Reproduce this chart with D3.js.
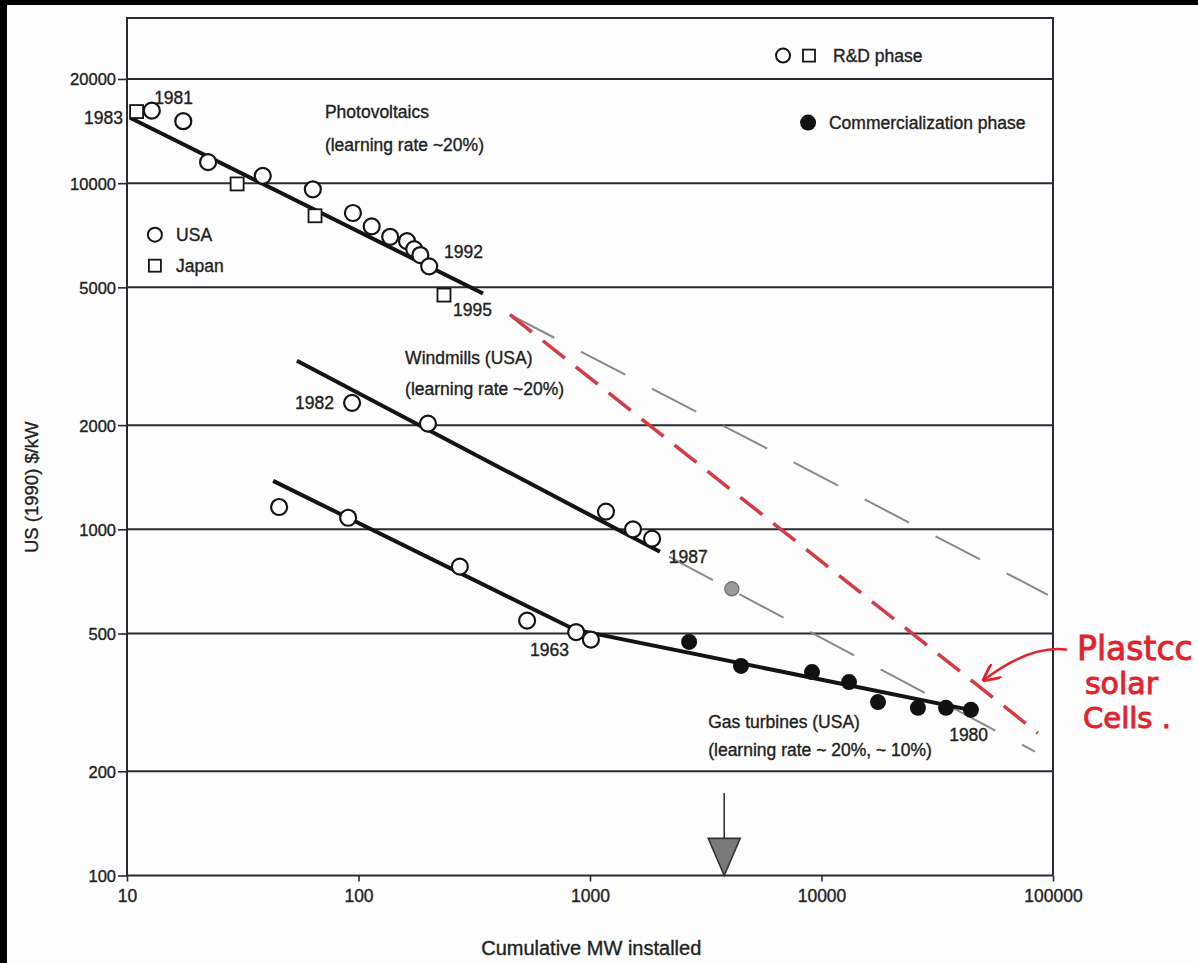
<!DOCTYPE html>
<html>
<head>
<meta charset="utf-8">
<script src="https://cdn.jsdelivr.net/npm/d3@7"></script>
<style>
    body { margin: 0; background: #fff; }
    text { font-family: "Liberation Sans", Arial, sans-serif; fill: #222; }
</style>
</head>
<body>
<div id="chart"></div>
<script>
const dims = {
    width: 1198, height: 963,
    top: 18, left: 127, right: 1053, bottom: 875.5
}

// axis ticks
const xTicks = [10, 100, 1000, 10000, 100000];
const yTicks = [100, 200, 500, 1000, 2000, 5000, 10000, 20000];

// [cumulative MW, $/kW]
const pvUSA = [[12.8,16200],[17.5,15100],[22.4,11500],[38.6,10500],[63.5,9600],[94.6,8200],
    [114,7500],[137,7000],[162,6800],[174,6450],[185,6200],[202,5750]];
const pvJapan = [[11.0,16100],[29.9,9950],[64.9,8050],[234,4750]];
const windUSA = [[93.8,2320],[199.5,2020],[1172,1125],[1534,1000],[1854,940]];
const gasRD = [[45.4,1160],[90.2,1080],[274,780],[535,545],[871,505],[1009,480]];
const gasCommercial = [[2680,473],[4490,403],[9100,387],[13150,362],[17540,317],[26100,305],[34500,305],[44200,301]];

// fitted learning curves
const pvFit = [[10.3,15450],[345,4800]];
const windFit = [[54.2,3070],[2005,861]];
const gasFit = [[42.8,1380],[861,513],[46000,299]];

// extrapolations
const pvTrend = [[451,4170],[95000,647]];
const windTrend = [[2190,834],[83600,228]];
const plasticTrend = [[451,4170],[86000,258]];
const projected = [[4100,673]];
const markerX = 3800;

// text labels: [x, y, text, anchor]
const labels = [
    [13.1,16980,"1981","start"],
    [9.6,14860,"1983","end"],
    [234,6095,"1992","start"],
    [256,4140,"1995","start"],
    [78.3,2230,"1982","end"],
    [2190,800,"1987","start"],
    [551,431,"1963","start"],
    [35600,245,"1980","start"],
    [71.6,15450,"Photovoltaics","start"],
    [71.6,12420,"(learning rate ~20%)","start"],
    [159,3005,"Windmills (USA)","start"],
    [159,2450,"(learning rate ~20%)","start"],
    [3240,267,"Gas turbines (USA)","start"],
    [3240,221,"(learning rate ~ 20%, ~ 10%)","start"],
    [16.3,6825,"USA","start"],
    [16.3,5546,"Japan","start"],
    [11220,22440,"R&D phase","start"],
    [10770,14370,"Commercialization phase","start"]
];

const notes = [
    [127000,420,"Plastcc",33],
    [137400,334,"solar",30],
    [134900,266,"Cells  .",29]
];
const noteArrow = [[114800,449],[79600,464],[50300,367]];

const x = d3.scaleLog().domain([10, 100000]).range([dims.left, dims.right]);
const y = d3.scaleLog().domain([100, 30000]).range([dims.bottom, dims.top]);

const svg = d3.select("#chart")
    .append("svg")
    .attr("width", dims.width)
    .attr("height", dims.height);

svg.append("rect").attr("width", dims.width).attr("height", dims.height).attr("fill", "#fdfdfd");
svg.append("rect").attr("width", dims.width).attr("height", 5).attr("fill", "#000");
svg.append("rect").attr("width", 7).attr("height", dims.height).attr("fill", "#000");

const ink = "#2a2a35";

// grid lines
svg.append("g")
    .selectAll("line")
    .data(yTicks)
    .join("line")
    .attr("x1", dims.left).attr("x2", dims.right)
    .attr("y1", d => y(d)).attr("y2", d => y(d))
    .style("stroke", ink).style("stroke-width", 2);

// frame
svg.append("path")
    .attr("d", `M${dims.left},${dims.bottom}V${dims.top}H${dims.right}V${dims.bottom}`)
    .style("fill", "none").style("stroke", ink).style("stroke-width", 2);

// axes
const yAxis = svg.append("g")
    .attr("transform", `translate(${dims.left},0)`)
    .call(d3.axisLeft(y).tickValues(yTicks).tickFormat(d3.format("d")).tickSize(9).tickPadding(2));
const xAxis = svg.append("g")
    .attr("transform", `translate(0,${dims.bottom})`)
    .call(d3.axisBottom(x).tickValues(xTicks).tickFormat(d3.format("d")).tickSize(6).tickPadding(8));
[xAxis, yAxis].forEach(a => {
    a.select(".domain").remove();
    a.selectAll("line").style("stroke", ink).style("stroke-width", 1.6);
    a.selectAll("text")
        .style("fill", "#222")
        .style("stroke", "#222").style("stroke-width", 0.35)
        .style("font-family", "'Liberation Sans', Arial, sans-serif");
});
yAxis.selectAll("text").style("font-size", "16.5px").attr("dy", "0.36em");
xAxis.selectAll("text").style("font-size", "17.5px");

svg.append("text")
    .attr("transform", `translate(38,${(y(2000) + y(1000)) / 2 + 10}) rotate(-90)`)
    .style("text-anchor", "middle")
    .style("font-size", "18.5px")
    .style("stroke", "#222").style("stroke-width", 0.35)
    .text("US (1990) $/kW");

svg.append("text")
    .attr("x", (x(1000) + x(100)) / 2 + 117)
    .attr("y", 955)
    .style("text-anchor", "middle")
    .style("font-size", "20px")
    .style("stroke", "#222").style("stroke-width", 0.35)
    .text("Cumulative MW installed");

const line = d3.line().x(d => x(d[0])).y(d => y(d[1]));

// extrapolated trends
svg.append("g")
    .selectAll("path")
    .data([pvTrend, windTrend])
    .join("path")
    .attr("d", line)
    .style("fill", "none")
    .style("stroke", "#8a8a8a")
    .style("stroke-width", 2)
    .style("stroke-dasharray", "50,30");

svg.append("path")
    .datum(plasticTrend)
    .attr("d", line)
    .style("fill", "none")
    .style("stroke", "#d63a44")
    .style("stroke-width", 3.5)
    .style("stroke-dasharray", "28,14");

svg.append("g")
    .selectAll("circle")
    .data(projected)
    .join("circle")
    .attr("cx", d => x(d[0])).attr("cy", d => y(d[1]))
    .attr("r", 7)
    .style("fill", "#9a9a9a")
    .style("stroke", "#777")
    .style("stroke-width", 1.5);

// fitted lines
svg.append("g")
    .selectAll("path")
    .data([pvFit, windFit, gasFit])
    .join("path")
    .attr("d", line)
    .style("fill", "none")
    .style("stroke", "#141414")
    .style("stroke-width", 4);

// points
const openCircles = pvUSA.concat(windUSA, gasRD);
svg.append("g")
    .selectAll("circle")
    .data(openCircles)
    .join("circle")
    .attr("cx", d => x(d[0])).attr("cy", d => y(d[1]))
    .attr("r", 8)
    .style("fill", "#fff")
    .style("stroke", "#151515")
    .style("stroke-width", 2.2);

svg.append("g")
    .selectAll("rect")
    .data(pvJapan)
    .join("rect")
    .attr("x", d => x(d[0]) - 6.5).attr("y", d => y(d[1]) - 6.5)
    .attr("width", 13).attr("height", 13)
    .style("fill", "#fff")
    .style("stroke", "#151515")
    .style("stroke-width", 1.8);

svg.append("g")
    .selectAll("circle")
    .data(gasCommercial)
    .join("circle")
    .attr("cx", d => x(d[0])).attr("cy", d => y(d[1]))
    .attr("r", 8)
    .style("fill", "#111");

// legend symbols
const legendOpen = [[13.2,7100],[6820,23360]];
const legendSquare = [[13.2,5776],[8830,23360]];
const legendFilled = [[8750,14960]];
svg.append("g").selectAll("circle").data(legendOpen).join("circle")
    .attr("cx", d => x(d[0])).attr("cy", d => y(d[1])).attr("r", 7)
    .style("fill", "#fff").style("stroke", "#151515").style("stroke-width", 2);
svg.append("g").selectAll("rect").data(legendSquare).join("rect")
    .attr("x", d => x(d[0]) - 6).attr("y", d => y(d[1]) - 6)
    .attr("width", 12).attr("height", 12)
    .style("fill", "#fff").style("stroke", "#151515").style("stroke-width", 1.8);
svg.append("g").selectAll("circle").data(legendFilled).join("circle")
    .attr("cx", d => x(d[0])).attr("cy", d => y(d[1])).attr("r", 8)
    .style("fill", "#111");

// labels
svg.append("g")
    .selectAll("text")
    .data(labels)
    .join("text")
    .attr("x", d => x(d[0])).attr("y", d => y(d[1]))
    .style("text-anchor", d => d[3])
    .style("font-size", "17.5px")
    .style("stroke", "#222").style("stroke-width", 0.35)
    .text(d => d[2]);

// marker arrow on x axis
const arrow = svg.append("g").attr("transform", `translate(${x(markerX)},0)`);
arrow.append("line")
    .attr("y1", y(173)).attr("y2", y(128))
    .style("stroke", "#333").style("stroke-width", 1.6);
arrow.append("path")
    .attr("d", `M-16,${y(128)}L16,${y(128)}L0,${y(100)}Z`)
    .style("fill", "#7a7a7a").style("stroke", "#333").style("stroke-width", 1.6);

// handwritten note
const red = "#e3222c";
svg.append("defs").append("marker")
    .attr("id", "head")
    .attr("viewBox", "0 0 10 10")
    .attr("refX", 9).attr("refY", 5)
    .attr("markerWidth", 7).attr("markerHeight", 7)
    .attr("orient", "auto")
    .append("path")
    .attr("d", "M0,0L10,5L0,10")
    .style("fill", "none").style("stroke", red).style("stroke-width", 1.6);

svg.append("path")
    .datum(noteArrow)
    .attr("d", d => `M${x(d[0][0])},${y(d[0][1])}Q${x(d[1][0])},${y(d[1][1])} ${x(d[2][0])},${y(d[2][1])}`)
    .style("fill", "none")
    .style("stroke", red)
    .style("stroke-width", 2.5)
    .attr("marker-end", "url(#head)");

svg.append("g")
    .selectAll("text")
    .data(notes)
    .join("text")
    .attr("x", d => x(d[0])).attr("y", d => y(d[1]))
    .style("fill", red)
    .style("stroke", red).style("stroke-width", 0.9)
    .style("font-size", d => d[3] + "px")
    .style("font-family", "'DejaVu Sans', sans-serif")
    .text(d => d[2]);
</script>
</body>
</html>
